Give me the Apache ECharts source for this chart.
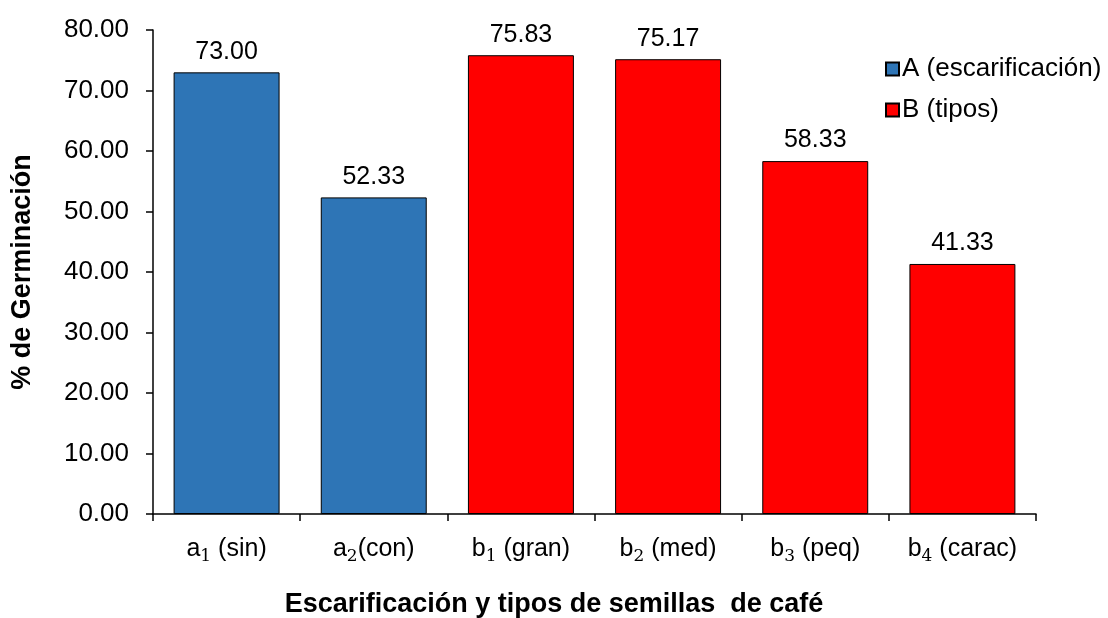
<!DOCTYPE html>
<html>
<head>
<meta charset="utf-8">
<script src="https://cdn.jsdelivr.net/npm/echarts@6/dist/echarts.min.js"></script>
<style>html,body{margin:0;padding:0;background:#fff}#c{width:1108px;height:618px}</style>
</head>
<body>
<div id="c"></div>
<script>
const categories = ['a₁ (sin)', 'a₂(con)', 'b₁ (gran)', 'b₂ (med)', 'b₃ (peq)', 'b₄ (carac)'];
const seriesAName = 'A (escarificación)';
const seriesBName = 'B (tipos)';
const valuesA = [73.00, 52.33, '-', '-', '-', '-'];
const valuesB = ['-', '-', 75.83, 75.17, 58.33, 41.33];
const yTicks = [0, 10, 20, 30, 40, 50, 60, 70, 80];
const xTitle = 'Escarificación y tipos de semillas  de café';
const yTitle = '% de Germinación';

const FONT = "'Liberation Sans', Arial, sans-serif";
const subMap = {'₁':'1','₂':'2','₃':'3','₄':'4'};

function fmtCat(v) {
  let out = '';
  for (const ch of v) {
    if (subMap[ch]) out += '{s|' + subMap[ch] + '}';
    else out += '{b|' + ch + '}';
  }
  return out;
}

const chart = echarts.init(document.getElementById('c'), null, {renderer: 'canvas'});
const labelCfg = {
  show: true, position: 'top', distance: 8,
  color: '#000', fontSize: 25, fontFamily: FONT,
  formatter: p => Number(p.value).toFixed(2)
};
chart.setOption({
  backgroundColor: '#fff',
  animation: false,
  grid: {left: 153, right: 72, top: 30, bottom: 104, containLabel: false, outerBoundsMode: 'none'},
  legend: {
    orient: 'vertical', left: 880, top: 51,
    itemWidth: 13, itemHeight: 13, itemGap: 15,
    icon: 'rect',
    textStyle: {fontSize: 26, fontFamily: FONT, color: '#000', padding: [0, 0, 0, -2]},
    data: [seriesAName, seriesBName]
  },
  xAxis: {
    type: 'category',
    data: categories,
    boundaryGap: true,
    axisLine: {lineStyle: {color: '#000', width: 1.5}},
    axisTick: {show: true, length: 7, inside: false, lineStyle: {color: '#000', width: 1.5}},
    axisLabel: {
      margin: 20, interval: 0, color: '#000',
      formatter: fmtCat,
      rich: {
        b: {fontSize: 25, fontFamily: FONT, color: '#000', lineHeight: 31, verticalAlign: 'middle'},
        s: {fontSize: 17, fontFamily: "'DejaVu Serif', serif", color: '#000', lineHeight: 17, verticalAlign: 'bottom'}
      }
    },
    splitLine: {show: false}
  },
  yAxis: {
    type: 'value',
    min: yTicks[0], max: yTicks[yTicks.length - 1], interval: yTicks[1] - yTicks[0],
    name: yTitle, nameLocation: 'middle', nameGap: 117, nameRotate: 90,
    nameTextStyle: {fontSize: 27, fontWeight: 'bold', fontFamily: FONT, color: '#000'},
    axisLine: {show: true, lineStyle: {color: '#000', width: 1.5}},
    axisTick: {show: true, length: 7, lineStyle: {color: '#000', width: 1.5}},
    axisLabel: {margin: 24, fontSize: 26, fontFamily: FONT, color: '#000', formatter: v => v.toFixed(2)},
    splitLine: {show: false}
  },
  graphic: [{
    type: 'text', left: 'center', top: 591,
    style: {text: xTitle, fontSize: 27, fontWeight: 'bold', fontFamily: FONT, fill: '#000'}
  }],
  series: [
    {
      name: seriesAName, type: 'bar', stack: 'g', data: valuesA,
      barCategoryGap: '28%',
      itemStyle: {color: '#2E75B6', borderColor: '#000', borderWidth: 1},
      label: labelCfg
    },
    {
      name: seriesBName, type: 'bar', stack: 'g', data: valuesB,
      barCategoryGap: '28%',
      itemStyle: {color: '#FF0000', borderColor: '#000', borderWidth: 1},
      label: labelCfg
    }
  ]
});
</script>
</body>
</html>
